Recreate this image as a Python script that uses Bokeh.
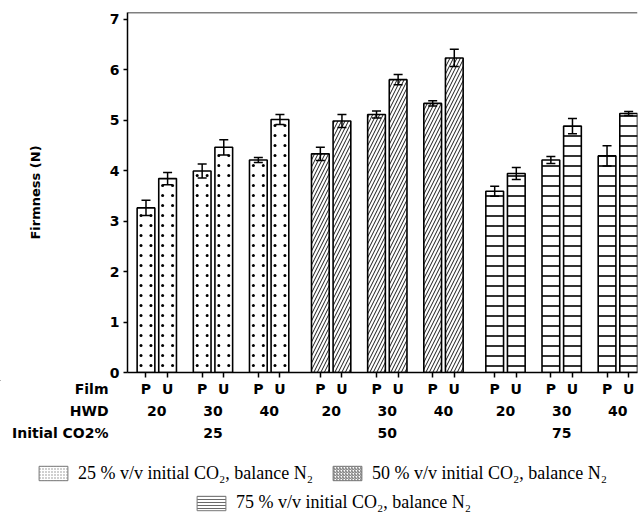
from bokeh.plotting import figure
from bokeh.layouts import column
from bokeh.models import (ColumnDataSource, Range1d, FixedTicker, Whisker,
                          TeeHead, Span, Legend, LegendItem)
from bokeh.core.properties import value
from bokeh.embed import file_html
from bokeh.resources import INLINE

# ---------------- data ----------------
co2_levels = ["25", "50", "75"]
hwd_levels = ["20", "30", "40"]
films = ["P", "U"]
# order within each CO2 group: (20,P) (20,U) (30,P) (30,U) (40,P) (40,U)
firmness_25 = [3.26, 3.84, 3.99, 4.46, 4.21, 5.01]
firmness_50 = [4.33, 4.98, 5.11, 5.80, 5.33, 6.23]
firmness_75 = [3.59, 3.94, 4.21, 4.88, 4.29, 5.13]
err_25 = [0.15, 0.12, 0.14, 0.15, 0.05, 0.10]
err_50 = [0.13, 0.13, 0.07, 0.10, 0.05, 0.17]
err_75 = [0.10, 0.12, 0.07, 0.15, 0.20, 0.04]
y_ticks = [0, 1, 2, 3, 4, 5, 6, 7]
row_titles = ["Film", "HWD", "Initial CO2%"]
legend_labels = ["25 % v/v initial CO\u2082, balance N\u2082",
                 "50 % v/v initial CO\u2082, balance N\u2082",
                 "75 % v/v initial CO\u2082, balance N\u2082"]

# ---------------- layout constants ----------------
W = 638
H_TOP, H_BOT = 380, 137
FRAME_LEFT, FRAME_RIGHT, FRAME_TOP, FRAME_BOTTOM = 127, 637, 12, 372
FILM_STEP, HWD_STEP, GROUP_STEP, BAR_W = 1.0, 2.6, 8.07, 0.82
X_START, X_END = -0.856, 22.75
Y_START, Y_END = 0.0, 7.13
FONT = "DejaVu Sans"
ROW_Y = [8.5, 30.5, 52.5]          # label rows, px below top of lower panel
DOT_DX, DOT_DY, DOT_Y0 = 0.23, 0.198, 0.14   # stipple texture spacing for the 25 % bars

def xpos(g, h, f):
    return round(g * GROUP_STEP + h * HWD_STEP + f * FILM_STEP, 4)

def px_to_x(px):
    return X_START + (px - FRAME_LEFT) * (X_END - X_START) / (FRAME_RIGHT - FRAME_LEFT)

# ---------------- main chart ----------------
p = figure(width=W, height=H_TOP, x_range=Range1d(X_START, X_END), y_range=Range1d(Y_START, Y_END),
           output_backend="svg", toolbar_location=None,
           min_border_left=FRAME_LEFT, min_border_right=W - FRAME_RIGHT,
           min_border_top=FRAME_TOP, min_border_bottom=H_TOP - FRAME_BOTTOM)
p.frame_align = False
p.outline_line_color = None
p.grid.visible = False

firm_groups = [firmness_25, firmness_50, firmness_75]
err_groups = [err_25, err_50, err_75]
styles = [
    dict(),   # stippled with dot markers below
    dict(hatch_pattern="right_diagonal_line", hatch_scale=7, hatch_weight=0.9, hatch_color="black"),
    dict(hatch_pattern="horizontal_line", hatch_scale=10, hatch_weight=1.6, hatch_color="black"),
]

all_x, all_films = [], []
for g, (vals, errs) in enumerate(zip(firm_groups, err_groups)):
    xs, tops, lows, ups = [], [], [], []
    k = 0
    for h in range(len(hwd_levels)):
        for f in range(len(films)):
            x = xpos(g, h, f)
            xs.append(x)
            tops.append(vals[k])
            lows.append(vals[k] - errs[k])
            ups.append(vals[k] + errs[k])
            all_x.append(x)
            all_films.append(films[f])
            k += 1
    src = ColumnDataSource(dict(x=xs, top=tops, lower=lows, upper=ups))
    p.vbar(x="x", top="top", width=BAR_W, source=src, fill_color="white",
           line_color="black", line_width=1.6, **styles[g])
    if g == 0:
        # stipple texture: a regular grid of small dots filling each bar up to its top
        dx, dy = [], []
        for x, t in zip(xs, tops):
            yy = DOT_Y0
            while yy < t - 0.08:
                dx.extend([x - DOT_DX, x + DOT_DX])
                dy.extend([yy, yy])
                yy += DOT_DY
        p.scatter(x=dx, y=dy, size=3.0, marker="circle", fill_color="black", line_color=None)
    wk = Whisker(base="x", upper="upper", lower="lower", source=src,
                 line_color="black", line_width=1.5,
                 upper_head=TeeHead(size=9, line_color="black", line_width=1.5),
                 lower_head=TeeHead(size=9, line_color="black", line_width=1.5))
    wk.level = "overlay"
    p.add_layout(wk)

# top border line
p.add_layout(Span(location=Y_END, dimension="width", line_color="black", line_width=1.5))

ya = p.yaxis[0]
ya.ticker = FixedTicker(ticks=y_ticks)
ya.axis_line_width = 1.5
ya.major_tick_out = 4
ya.major_tick_in = 0
ya.major_tick_line_width = 1.5
ya.minor_tick_line_color = None
ya.major_label_standoff = 4
ya.major_label_text_font = FONT
ya.major_label_text_font_style = "bold"
ya.major_label_text_font_size = "14px"
ya.major_label_text_color = "black"
ya.axis_label = "Firmness (N)"
ya.axis_label_text_font = FONT
ya.axis_label_text_font_style = "bold"
ya.axis_label_text_font_size = "13px"
ya.axis_label_text_color = "black"
ya.axis_label_standoff = 64

xa = p.xaxis[0]
xa.ticker = FixedTicker(ticks=all_x)
xa.axis_line_width = 1.5
xa.major_tick_out = 5
xa.major_tick_in = 0
xa.major_tick_line_width = 1.5
xa.minor_tick_line_color = None
xa.major_label_overrides = {x: "" for x in all_x}
xa.major_label_standoff = 0

# ---------------- lower panel: category rows + legend ----------------
q = figure(width=W, height=H_BOT, x_range=Range1d(px_to_x(0), px_to_x(W)), y_range=Range1d(H_BOT, 0),
           output_backend="svg", toolbar_location=None, min_border=0,
           x_axis_location=None, y_axis_location=None)
q.frame_align = False
q.outline_line_color = None
q.grid.visible = False

pair_x, pair_lab = [], []
grp_x, grp_lab = [], []
for g in range(len(co2_levels)):
    for h in range(len(hwd_levels)):
        pair_x.append(xpos(g, h, 0) + FILM_STEP / 2)
        pair_lab.append(hwd_levels[h])
    grp_x.append(xpos(g, 1, 0) + FILM_STEP / 2)
    grp_lab.append(co2_levels[g])

txt = dict(text_align="center", text_baseline="middle", text_font=value(FONT),
           text_font_style="bold", text_font_size="14px", text_color="black")
q.text(x=all_x, y=[ROW_Y[0]] * len(all_x), text=all_films, **txt)
q.text(x=pair_x, y=[ROW_Y[1]] * len(pair_x), text=pair_lab, **txt)
q.text(x=grp_x, y=[ROW_Y[2]] * len(grp_x), text=grp_lab, **txt)
q.text(x=[px_to_x(108)] * 3, y=ROW_Y, text=row_titles, text_align="right", text_baseline="middle",
       text_font=value(FONT), text_font_style="bold", text_font_size="14px", text_color="black")

leg_styles = [
    dict(hatch_pattern="dot", hatch_scale=3, hatch_weight=0.6, hatch_color="#888888"),
    dict(hatch_pattern="right_diagonal_line", hatch_scale=3, hatch_weight=0.8, hatch_color="#444444"),
    dict(hatch_pattern="horizontal_line", hatch_scale=3, hatch_weight=0.8, hatch_color="#444444"),
]
leg_renderers = []
for st in leg_styles:
    # legend-only renderers: a single zero-height bar outside the visible panel
    r = q.vbar(x=[px_to_x(-200)], top=[0], bottom=[0], width=BAR_W, fill_color="white",
               line_color="#777777", line_width=1, **st)
    leg_renderers.append(r)

def make_legend(idx, loc):
    return Legend(items=[LegendItem(label=legend_labels[i], renderers=[leg_renderers[i]]) for i in idx],
                  orientation="horizontal", location=loc, padding=0, margin=0, spacing=16,
                  label_standoff=7, glyph_width=36, glyph_height=18, label_height=18,
                  label_text_font="Liberation Serif", label_text_font_size="18px",
                  label_text_color="black", border_line_color=None, background_fill_alpha=0)

# location = (left, bottom) of each legend row measured from the panel's bottom-left corner
q.add_layout(make_legend([0, 1], (35, H_BOT - 103.5)))
q.add_layout(make_legend([2], (193, H_BOT - 133)))

layout = column(p, q, spacing=0)
open("out.html", "w").write(file_html(layout, INLINE))
